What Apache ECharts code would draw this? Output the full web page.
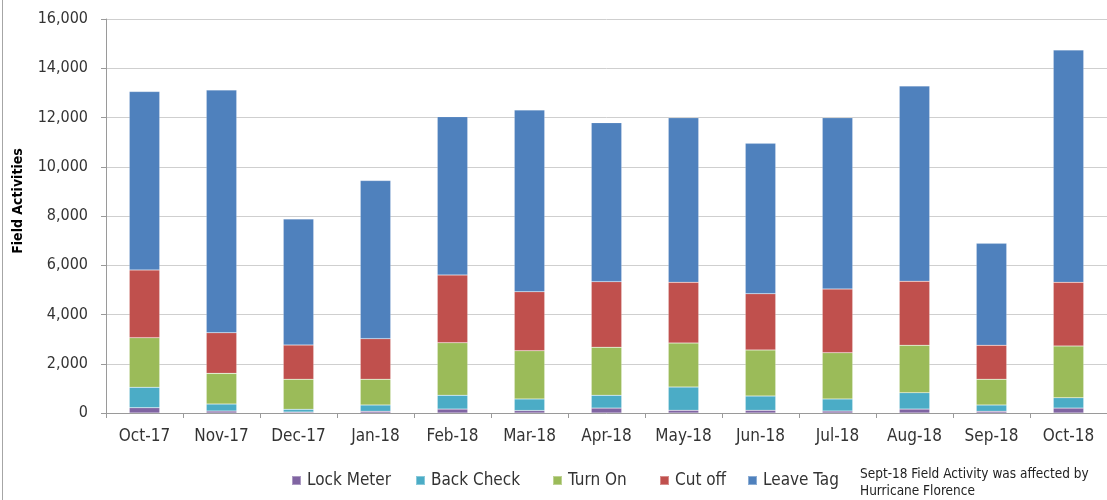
<!DOCTYPE html>
<html>
<head>
<meta charset="utf-8">
<script src="https://cdn.jsdelivr.net/npm/echarts@6/dist/echarts.min.js"></script>
<style>html,body{margin:0;padding:0;background:#fff;}#chart{width:1107px;height:500px;}</style>
</head>
<body>
<div id="chart"></div>
<script>
var categories = ['Oct-17','Nov-17','Dec-17','Jan-18','Feb-18','Mar-18','Apr-18','May-18','Jun-18','Jul-18','Aug-18','Sep-18','Oct-18'];
var lockMeter = [215, 80, 40, 70, 160, 100, 200, 110, 110, 80, 160, 70, 200];
var backCheck = [830, 285, 110, 255, 560, 470, 520, 945, 580, 490, 665, 255, 420];
var turnOn    = [2015, 1245, 1220, 1045, 2135, 1960, 1950, 1785, 1870, 1880, 1925, 1045, 2100];
var cutOff    = [2750, 1650, 1390, 1650, 2750, 2395, 2665, 2465, 2285, 2585, 2600, 1380, 2585];
var leaveTag  = [7245, 9855, 5120, 6420, 6430, 7380, 6455, 6685, 6105, 6955, 7930, 4140, 9435];
var yTicks = [0, 2000, 4000, 6000, 8000, 10000, 12000, 14000, 16000];
var seriesNames = ['Lock Meter','Back Check','Turn On','Cut off','Leave Tag'];
var seriesColors = ['#8064A2','#4BACC6','#9BBB59','#C0504D','#4F81BD'];
var seriesData = [lockMeter, backCheck, turnOn, cutOff, leaveTag];
var noteLines = ['Sept-18 Field Activity was affected by', 'Hurricane Florence'];

var FONT = "'Liberation Sans Narrow','DejaVu Sans Condensed','Liberation Sans',Arial,sans-serif";
var legendLeft = [291, 415, 552, 659, 747];

var chart = echarts.init(document.getElementById('chart'), null, {renderer:'canvas'});
var option = {
  animation: false,
  backgroundColor: '#ffffff',
  textStyle: {fontFamily: FONT},
  grid: {left: 106, right: -3, top: 19, bottom: 87, containLabel: false},
  legend: seriesNames.map(function(n, i){
    return {
      data: [n], left: legendLeft[i], top: 472, padding: 0,
      itemWidth: 9, itemHeight: 9, itemGap: 0,
      icon: 'rect',
      textStyle: {fontFamily: FONT, fontSize: 17, color: '#333333', padding:[0,0,0,1]}
    };
  }),
  xAxis: {
    type: 'category',
    data: categories,
    boundaryGap: true,
    axisLine: {lineStyle: {color: '#9a9a9a', width: 1}},
    axisTick: {show: true, length: 5, lineStyle: {color: '#9a9a9a'}},
    axisLabel: {fontFamily: FONT, fontSize: 17, color: '#333333', margin: 15}
  },
  yAxis: {
    type: 'value',
    min: 0, max: 16000, interval: 2000,
    axisLine: {show: true, lineStyle: {color: '#9a9a9a'}},
    axisTick: {show: true, length: 5, lineStyle: {color: '#9a9a9a'}},
    splitLine: {show: true, lineStyle: {color: '#cfcfcf', width: 1}},
    axisLabel: {
      fontFamily: FONT, fontSize: 16, color: '#333333', margin: 18,
      formatter: function(v){ return yTicks.indexOf(v) >= 0 ? v.toLocaleString('en-US') : ''; }
    }
  },
  series: seriesNames.map(function(n, i){
    return {
      name: n, type: 'bar', stack: 'total',
      data: seriesData[i],
      barWidth: '39.5%',
      itemStyle: {color: seriesColors[i], borderColor: 'rgba(255,255,255,0.35)', borderWidth: 0.5}
    };
  }),
  graphic: [
    {type: 'line', shape: {x1: 2.5, y1: 0, x2: 2.5, y2: 500}, style: {stroke: '#a6a6a6', lineWidth: 1}},
    {type: 'text', x: 18, y: 201, rotation: Math.PI/2,
     style: {text: 'Field Activities', fontFamily: FONT, fontWeight: 'bold', fontSize: 14, fill: '#000000', textAlign: 'center', textVerticalAlign: 'middle'}},
    {type: 'text', left: 860, top: 466,
     style: {text: noteLines.join('\n'), fontFamily: FONT, fontSize: 13.5, lineHeight: 17, fill: '#222222'}}
  ]
};
chart.setOption(option);
</script>
</body>
</html>
